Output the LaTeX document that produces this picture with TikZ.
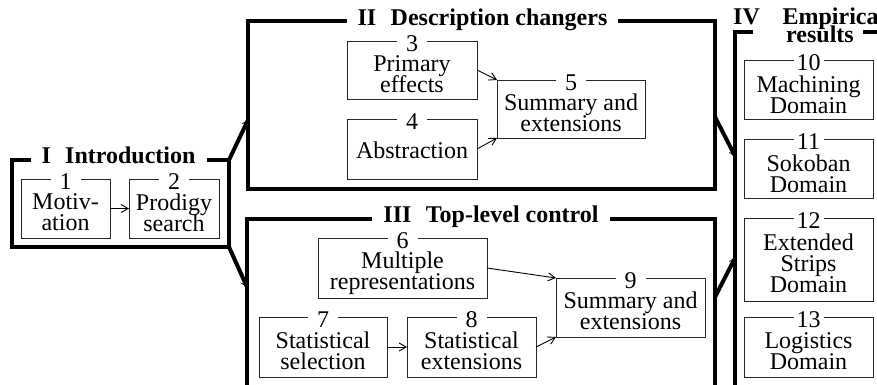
\documentclass[tikz,border=0pt]{standalone}
\usepackage{fontspec}
\setmainfont{Liberation Serif}
\usetikzlibrary{arrows.meta}
\newcommand\tbox[7]{%
  \node[box, minimum width=#3pt, minimum height=#4pt] (#1) at (#2) {};
  \node[num] (#1n) at ([yshift=-10.5pt]#1.north) {#5};
  \node[body] (#1t) at ([yshift=-#7pt]#1.north) {#6};
}
\begin{document}
\lineskiplimit=-30pt
\begin{tikzpicture}[x=1pt,y=-1pt,
  every node/.style={font=\fontsize{24}{21}\selectfont},
  frame/.style={draw, line width=4pt, rectangle, inner sep=0pt, outer sep=0pt},
  box/.style={draw=black!85, line width=0.9pt, rectangle, inner sep=0pt, outer sep=0pt},
  num/.style={fill=white, inner sep=0pt, minimum width=30pt, anchor=base},
  body/.style={align=center, inner sep=0pt, anchor=north},
  ttl/.style={font=\bfseries\fontsize{24}{21}\selectfont, fill=white, inner xsep=11pt, inner ysep=0pt, anchor=base},
  thinarrow/.style={line width=0.9pt, -{Straight Barb[length=7pt,width=8pt]}},
  thickarrow/.style={line width=4pt, -{Straight Barb[length=5pt,width=7pt,line width=0.8pt]}}
]
\useasboundingbox (0,0) rectangle (877,385);
\clip (0,0) rectangle (877,385);

% frames
\node[frame, minimum width=217pt, minimum height=87pt] (I) at (120.5,203.5) {};
\node[frame, minimum width=467pt, minimum height=168pt] (II) at (481.5,105) {};
\node[frame, minimum width=468pt, minimum height=241pt] (III) at (481,339.5) {};
\node[frame, minimum width=215pt, minimum height=428pt] (IV) at (842.5,246) {};

% titles
\node[ttl] (tI) at (118.5,163) {I\hspace{0.6em}Introduction};
\node[ttl] (tII) at (482.5,26) {II\hspace{0.6em}Description changers};
\node[ttl] (tIII) at (491,222) {III\hspace{0.6em}Top-level control};
\fill[white] (753,25) rectangle (863,40);
\node[font=\bfseries\fontsize{24}{21}\selectfont, inner sep=0pt, anchor=base west] (tIVa) at (733,25) {IV\hspace{0.95em}Empirical};
\node[font=\bfseries\fontsize{24}{21}\selectfont, inner sep=0pt, anchor=base] (tIVb) at (820,43) {results};

% boxes
\tbox{b1}{65.5,208.5}{89}{59}{1}{Motiv-\\ation}{14.6}
\tbox{b2}{174,208.5}{90}{59}{2}{Prodigy\\search}{14.6}
\tbox{b3}{412,70}{130}{58}{3}{Primary\\effects}{14.6}
\tbox{b4}{412,149}{130}{60}{4}{Abstraction}{22.6}
\tbox{b5}{571,109}{148}{58}{5}{Summary and\\extensions}{14}
\tbox{b6}{402.5,268}{169}{60}{6}{Multiple\\representations}{14}
\tbox{b7}{323,347}{128}{60}{7}{Statistical\\selection}{14.6}
\tbox{b8}{471.5,347}{129}{60}{8}{Statistical\\extensions}{14.6}
\tbox{b9}{630.5,307.5}{149}{59}{9}{Summary and\\extensions}{14}
\tbox{b10}{808.5,89.5}{129}{59}{10}{Machining\\Domain}{15.5}
\tbox{b11}{808.5,168.5}{129}{59}{11}{Sokoban\\Domain}{15.5}
\tbox{b12}{808.5,259.5}{129}{83}{12}{Extended\\Strips\\Domain}{15.5}
\tbox{b13}{808.5,347}{129}{60}{13}{Logistics\\Domain}{15.5}

% thin arrows
\draw[thinarrow] (b1.east) -- (b2.west);
\draw[thinarrow] (b3.east) -- (b5.north west);
\draw[thinarrow] (b4.east) -- (b5.south west);
\draw[thinarrow] (b6.east) -- (b9.north west);
\draw[thinarrow] (b7.east) -- (b8.west);
\draw[thinarrow] (b8.east) -- (b9.south west);

% thick connectors
\draw[thickarrow] (I.north east) -- (II.west |- 0,120);
\draw[thickarrow] (I.south east) -- (III.west |- 0,287);
\draw[thickarrow] (II.east |- 0,117) -- (IV.west |- 0,156);
\draw[thickarrow] (III.east |- 0,297) -- (IV.west |- 0,258);
\end{tikzpicture}
\end{document}
